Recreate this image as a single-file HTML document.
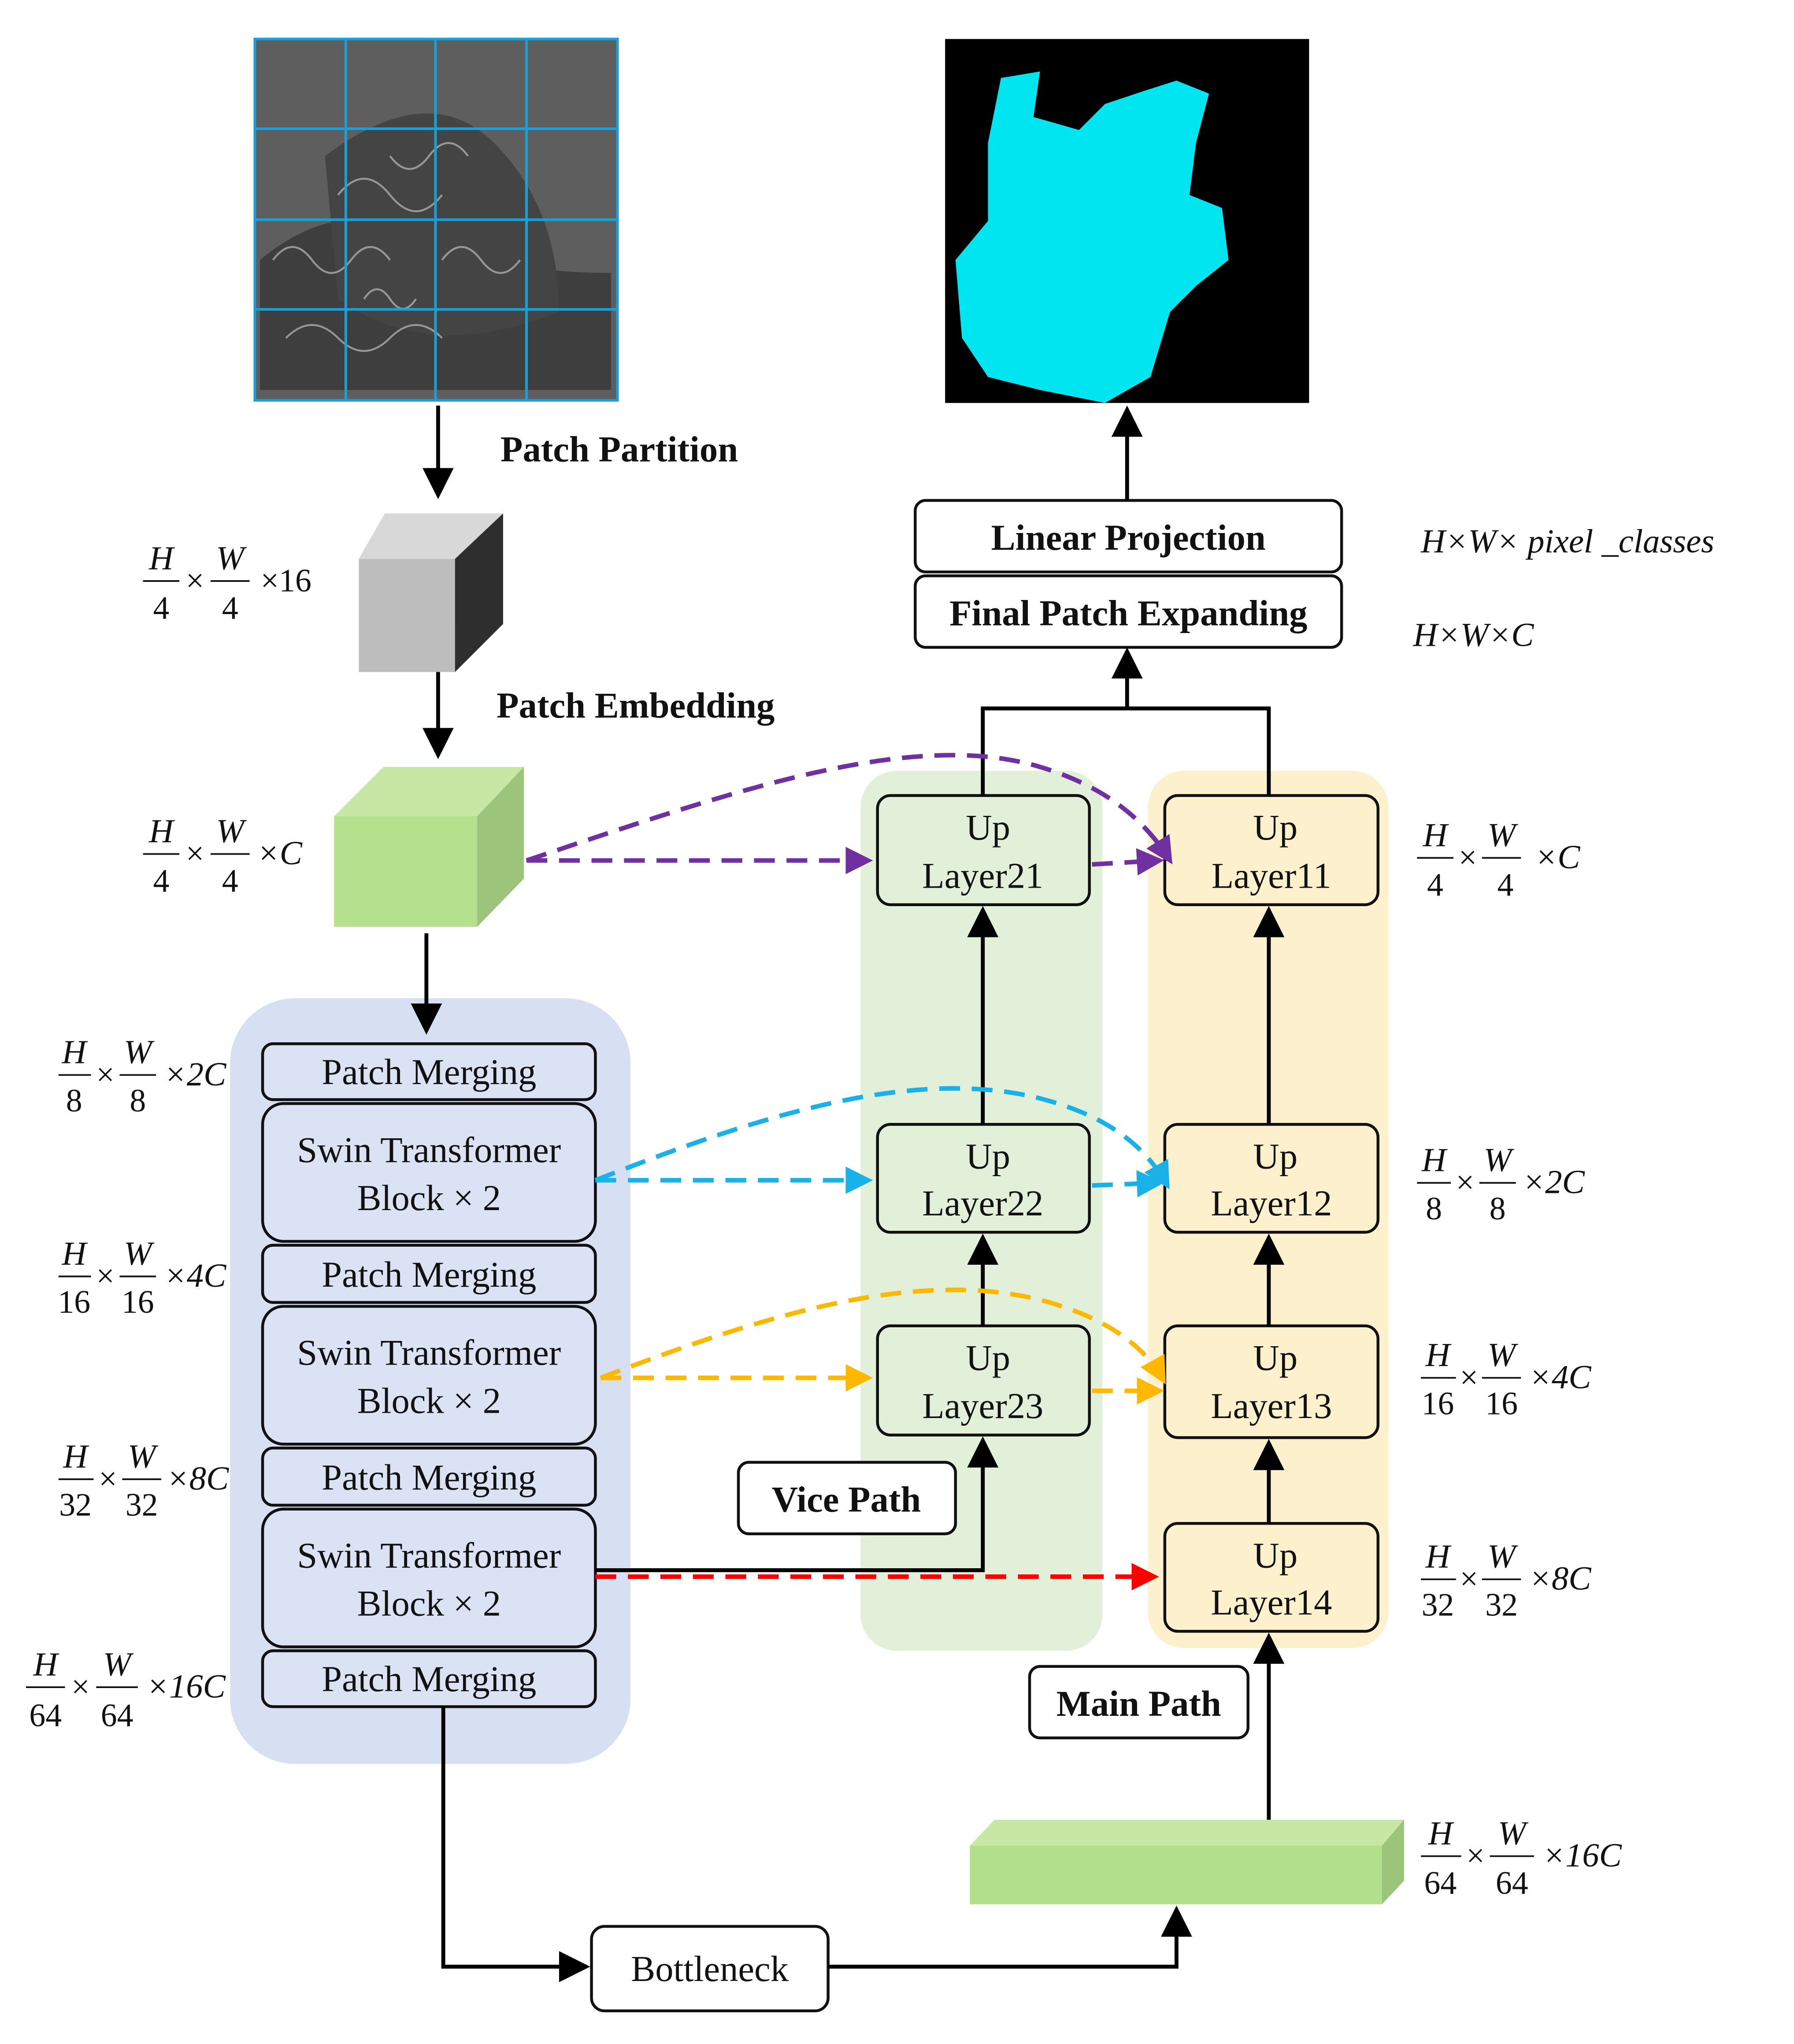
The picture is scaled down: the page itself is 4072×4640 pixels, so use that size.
<!DOCTYPE html>
<html><head><meta charset="utf-8"><style>html,body{margin:0;padding:0;background:#fff}svg{display:block}
text{font-family:"Liberation Serif",serif;fill:#111}
.b{font-weight:bold;font-size:28px}
.n{font-size:28px}
.m{font-size:26px;font-style:italic}
.d{font-size:25px}
</style></head><body>
<svg width="4072" height="4640" viewBox="0 0 1380 1572.5" preserveAspectRatio="none" xmlns="http://www.w3.org/2000/svg">
<defs>
<marker id="ak" markerWidth="8" markerHeight="8" refX="6" refY="4" orient="auto" markerUnits="strokeWidth"><path d="M0,0 L8,4 L0,8 z" fill="#000"/></marker>
<marker id="ap" markerWidth="6" markerHeight="6" refX="5" refY="3" orient="auto" markerUnits="strokeWidth"><path d="M0,0 L6,3 L0,6 z" fill="#7030a0"/></marker>
<marker id="ab" markerWidth="6" markerHeight="6" refX="5" refY="3" orient="auto" markerUnits="strokeWidth"><path d="M0,0 L6,3 L0,6 z" fill="#1ab0e8"/></marker>
<marker id="ao" markerWidth="6" markerHeight="6" refX="5" refY="3" orient="auto" markerUnits="strokeWidth"><path d="M0,0 L6,3 L0,6 z" fill="#ffb800"/></marker>
<marker id="ar" markerWidth="6" markerHeight="6" refX="5" refY="3" orient="auto" markerUnits="strokeWidth"><path d="M0,0 L6,3 L0,6 z" fill="#ff0000"/></marker>
</defs>

<!-- input image -->
<rect x="196" y="30" width="279" height="278" fill="#5e5e5e"/>
<path d="M200,200 Q260,150 320,180 T470,210 L470,300 L200,300 Z" fill="#3e3e3e"/>
<path d="M250,120 Q330,60 380,110 T430,240 Q330,280 260,230 Z" fill="#444"/>
<g stroke="#bbb" stroke-width="1.5" fill="none" opacity="0.7">
<path d="M210,200 q15,-20 30,0 t30,0 t30,0 M260,150 q20,-25 40,0 t40,0 M300,120 q15,20 30,0 t30,0 M220,260 q20,-20 40,0 t40,0 t40,0 M340,200 q15,-20 30,0 t30,0 M280,230 q10,-15 20,0 t20,0"/>
</g>
<g stroke="#1aa0d8" stroke-width="2" fill="none">
<rect x="196" y="30" width="279" height="278"/>
<line x1="266" y1="30" x2="266" y2="308"/><line x1="335" y1="30" x2="335" y2="308"/><line x1="405" y1="30" x2="405" y2="308"/>
<line x1="196" y1="99" x2="475" y2="99"/><line x1="196" y1="169" x2="475" y2="169"/><line x1="196" y1="238" x2="475" y2="238"/>
</g>

<!-- output image -->
<rect x="727" y="30" width="280" height="280" fill="#000"/>
<path d="M770,60 L800,55 L795,90 L830,100 L850,80 L880,70 L905,62 L930,72 L920,110 L915,150 L940,160 L945,200 L920,220 L900,240 L885,290 L850,310 L800,300 L760,290 L740,260 L735,200 L760,170 L760,110 Z" fill="#00e5f0"/>

<line x1="337" y1="312" x2="337" y2="378" stroke="#000" stroke-width="3" marker-end="url(#ak)"/>
<text x="385" y="355" class="b">Patch Partition</text>

<!-- gray cube -->
<polygon points="276,430 296,395 387,395 350,430" fill="#d8d8d8"/>
<rect x="276" y="430" width="74" height="87" fill="#bdbdbd"/>
<polygon points="350,430 387,395 387,480 350,517" fill="#2e2e2e"/>

<line x1="337" y1="517" x2="337" y2="578" stroke="#000" stroke-width="3" marker-end="url(#ak)"/>
<text x="382" y="552" class="b">Patch Embedding</text>

<!-- green cube -->
<polygon points="257,628 295,590 403,590 367,628" fill="#c6e8a4"/>
<rect x="257" y="628" width="110" height="85" fill="#b5e08e"/>
<polygon points="367,628 403,590 403,676 367,713" fill="#9cc47a"/>

<!-- panels -->
<rect x="177" y="768" width="308" height="589" rx="50" fill="#d7e0f2"/>
<rect x="662" y="593" width="186" height="677" rx="28" fill="#e2efd9"/>
<rect x="883" y="593" width="185" height="675" rx="28" fill="#fdf0cc"/>

<line x1="328" y1="718" x2="328" y2="790" stroke="#000" stroke-width="3" marker-end="url(#ak)"/>

<g fill="#dae2f3" stroke="#111" stroke-width="2.2">
<rect x="202" y="803" width="256" height="43" rx="8"/>
<rect x="202" y="849" width="256" height="106" rx="16"/>
<rect x="202" y="958" width="256" height="44" rx="8"/>
<rect x="202" y="1005" width="256" height="106" rx="16"/>
<rect x="202" y="1114" width="256" height="44" rx="8"/>
<rect x="202" y="1161" width="256" height="106" rx="16"/>
<rect x="202" y="1270" width="256" height="43" rx="8"/>
</g>
<g text-anchor="middle">
<text x="330" y="834" class="n">Patch Merging</text>
<text x="330" y="894" class="n">Swin Transformer</text><text x="330" y="931" class="n">Block × 2</text>
<text x="330" y="990" class="n">Patch Merging</text>
<text x="330" y="1050" class="n">Swin Transformer</text><text x="330" y="1087" class="n">Block × 2</text>
<text x="330" y="1146" class="n">Patch Merging</text>
<text x="330" y="1206" class="n">Swin Transformer</text><text x="330" y="1243" class="n">Block × 2</text>
<text x="330" y="1301" class="n">Patch Merging</text>
</g>

<!-- up layers -->
<g fill="none" stroke="#111" stroke-width="2.2">
<rect x="675" y="612" width="163" height="84" rx="10"/>
<rect x="675" y="865" width="163" height="83" rx="10"/>
<rect x="675" y="1020" width="163" height="84" rx="10"/>
<rect x="896" y="612" width="164" height="84" rx="10"/>
<rect x="896" y="865" width="164" height="83" rx="10"/>
<rect x="896" y="1020" width="164" height="86" rx="10"/>
<rect x="896" y="1172" width="164" height="83" rx="10"/>
</g>
<g text-anchor="middle">
<text x="760" y="646" class="n">Up</text><text x="756" y="683" class="n">Layer21</text>
<text x="760" y="899" class="n">Up</text><text x="756" y="935" class="n">Layer22</text>
<text x="760" y="1054" class="n">Up</text><text x="756" y="1091" class="n">Layer23</text>
<text x="981" y="646" class="n">Up</text><text x="978" y="683" class="n">Layer11</text>
<text x="981" y="899" class="n">Up</text><text x="978" y="935" class="n">Layer12</text>
<text x="981" y="1054" class="n">Up</text><text x="978" y="1091" class="n">Layer13</text>
<text x="981" y="1206" class="n">Up</text><text x="978" y="1242" class="n">Layer14</text>
</g>

<!-- top boxes -->
<rect x="704" y="385" width="328" height="55" rx="8" fill="#fff" stroke="#111" stroke-width="2.2"/>
<rect x="704" y="443" width="328" height="55" rx="8" fill="#fff" stroke="#111" stroke-width="2.2"/>
<text x="868" y="423" class="b" text-anchor="middle">Linear Projection</text>
<text x="868" y="481" class="b" text-anchor="middle">Final Patch Expanding</text>
<line x1="867" y1="385" x2="867" y2="318" stroke="#000" stroke-width="3" marker-end="url(#ak)"/>

<g stroke="#000" stroke-width="3" fill="none">
<polyline points="756,612 756,545 976,545 976,612"/>
</g>
<g stroke="#000" stroke-width="3" marker-end="url(#ak)">
<line x1="867" y1="545" x2="867" y2="504"/>
<line x1="756" y1="865" x2="756" y2="703"/>
<line x1="976" y1="865" x2="976" y2="703"/>
<line x1="756" y1="1020" x2="756" y2="955"/>
<line x1="976" y1="1020" x2="976" y2="955"/>
<line x1="976" y1="1172" x2="976" y2="1113"/>
<line x1="976" y1="1405" x2="976" y2="1262"/>
</g>
<polyline points="458,1208 756,1208 756,1111" fill="none" stroke="#000" stroke-width="3" marker-end="url(#ak)"/>

<!-- dashed -->
<g fill="none" stroke-width="3.5" stroke-dasharray="16,9">
<line x1="405" y1="662" x2="668" y2="662" stroke="#7030a0" marker-end="url(#ap)"/>
<path d="M405,662 C560,610 700,560 800,590 C850,605 880,630 900,662" stroke="#7030a0" marker-end="url(#ap)"/>
<line x1="840" y1="665" x2="892" y2="662" stroke="#7030a0" marker-end="url(#ap)"/>
<line x1="458" y1="908" x2="668" y2="908" stroke="#1ab0e8" marker-end="url(#ab)"/>
<path d="M458,908 C580,860 700,820 800,845 C850,858 880,880 898,912" stroke="#1ab0e8" marker-end="url(#ab)"/>
<line x1="840" y1="912" x2="892" y2="910" stroke="#1ab0e8" marker-end="url(#ab)"/>
<line x1="462" y1="1060" x2="668" y2="1060" stroke="#ffb800" marker-end="url(#ao)"/>
<path d="M462,1060 C580,1015 700,975 800,1000 C850,1013 880,1035 895,1062" stroke="#ffb800" marker-end="url(#ao)"/>
<line x1="840" y1="1070" x2="892" y2="1070" stroke="#ffb800" marker-end="url(#ao)"/>
<line x1="458" y1="1213" x2="888" y2="1213" stroke="#ff0000" marker-end="url(#ar)"/>
</g>

<!-- path labels -->
<rect x="568" y="1125" width="167" height="55" rx="8" fill="#fff" stroke="#111" stroke-width="2.2"/>
<text x="651" y="1163" class="b" text-anchor="middle">Vice Path</text>
<rect x="792" y="1282" width="168" height="55" rx="8" fill="#fff" stroke="#111" stroke-width="2.2"/>
<text x="876" y="1320" class="b" text-anchor="middle">Main Path</text>

<!-- bottom block -->
<polygon points="746,1420 765,1400 1080,1400 1063,1420" fill="#c6e8a4"/>
<rect x="746" y="1420" width="317" height="45" fill="#b2df8a"/>
<polygon points="1063,1420 1080,1400 1080,1447 1063,1465" fill="#9cc47a"/>

<rect x="455" y="1482" width="182" height="65" rx="10" fill="#fff" stroke="#111" stroke-width="2.2"/>
<text x="546" y="1524" class="n" text-anchor="middle">Bottleneck</text>
<polyline points="341,1313 341,1513 448,1513" fill="none" stroke="#000" stroke-width="3" marker-end="url(#ak)"/>
<polyline points="637,1513 905,1513 905,1472" fill="none" stroke="#000" stroke-width="3" marker-end="url(#ak)"/>

<!-- dimension labels -->
<g stroke="#111" stroke-width="1.3">
<line x1="110" y1="447" x2="138" y2="447"/><line x1="162" y1="447" x2="192" y2="447"/>
<line x1="110" y1="657" x2="138" y2="657"/><line x1="162" y1="657" x2="192" y2="657"/>
<line x1="45" y1="827" x2="70" y2="827"/><line x1="92" y1="827" x2="120" y2="827"/>
<line x1="45" y1="982" x2="70" y2="982"/><line x1="92" y1="982" x2="120" y2="982"/>
<line x1="45" y1="1138" x2="72" y2="1138"/><line x1="94" y1="1138" x2="124" y2="1138"/>
<line x1="20" y1="1298" x2="50" y2="1298"/><line x1="74" y1="1298" x2="106" y2="1298"/>
<line x1="1090" y1="660" x2="1118" y2="660"/><line x1="1140" y1="660" x2="1170" y2="660"/>
<line x1="1090" y1="910" x2="1116" y2="910"/><line x1="1138" y1="910" x2="1166" y2="910"/>
<line x1="1093" y1="1060" x2="1120" y2="1060"/><line x1="1140" y1="1060" x2="1170" y2="1060"/>
<line x1="1093" y1="1215" x2="1120" y2="1215"/><line x1="1140" y1="1215" x2="1170" y2="1215"/>
<line x1="1093" y1="1428" x2="1124" y2="1428"/><line x1="1146" y1="1428" x2="1180" y2="1428"/>
</g>
<g class="d" text-anchor="middle">
<text x="124" y="438" class="m">H</text><text x="124" y="476" class="d">4</text><text x="150" y="455" class="d">×</text><text x="177" y="438" class="m">W</text><text x="177" y="476" class="d">4</text><text x="220" y="455" class="d">×16</text>
<text x="124" y="648" class="m">H</text><text x="124" y="686" class="d">4</text><text x="150" y="665" class="d">×</text><text x="177" y="648" class="m">W</text><text x="177" y="686" class="d">4</text><text x="215" y="665" class="m">×C</text>
<text x="57" y="818" class="m">H</text><text x="57" y="855" class="d">8</text><text x="81" y="835" class="d">×</text><text x="106" y="818" class="m">W</text><text x="106" y="855" class="d">8</text><text x="150" y="835" class="m">×2C</text>
<text x="57" y="973" class="m">H</text><text x="57" y="1010" class="d">16</text><text x="81" y="990" class="d">×</text><text x="106" y="973" class="m">W</text><text x="106" y="1010" class="d">16</text><text x="150" y="990" class="m">×4C</text>
<text x="58" y="1129" class="m">H</text><text x="58" y="1166" class="d">32</text><text x="83" y="1146" class="d">×</text><text x="109" y="1129" class="m">W</text><text x="109" y="1166" class="d">32</text><text x="152" y="1146" class="m">×8C</text>
<text x="35" y="1289" class="m">H</text><text x="35" y="1328" class="d">64</text><text x="62" y="1306" class="d">×</text><text x="90" y="1289" class="m">W</text><text x="90" y="1328" class="d">64</text><text x="143" y="1306" class="m">×16C</text>
<text x="1104" y="651" class="m">H</text><text x="1104" y="689" class="d">4</text><text x="1129" y="668" class="d">×</text><text x="1155" y="651" class="m">W</text><text x="1158" y="689" class="d">4</text><text x="1198" y="668" class="m">×C</text>
<text x="1103" y="901" class="m">H</text><text x="1103" y="938" class="d">8</text><text x="1127" y="918" class="d">×</text><text x="1152" y="901" class="m">W</text><text x="1152" y="938" class="d">8</text><text x="1195" y="918" class="m">×2C</text>
<text x="1106" y="1051" class="m">H</text><text x="1106" y="1088" class="d">16</text><text x="1130" y="1068" class="d">×</text><text x="1155" y="1051" class="m">W</text><text x="1155" y="1088" class="d">16</text><text x="1200" y="1068" class="m">×4C</text>
<text x="1106" y="1206" class="m">H</text><text x="1106" y="1243" class="d">32</text><text x="1130" y="1223" class="d">×</text><text x="1155" y="1206" class="m">W</text><text x="1155" y="1243" class="d">32</text><text x="1200" y="1223" class="m">×8C</text>
<text x="1108" y="1419" class="m">H</text><text x="1108" y="1457" class="d">64</text><text x="1135" y="1436" class="d">×</text><text x="1163" y="1419" class="m">W</text><text x="1163" y="1457" class="d">64</text><text x="1217" y="1436" class="m">×16C</text>
</g>
<text x="1093" y="425" class="m">H×W× pixel _classes</text>
<text x="1087" y="497" class="m">H×W×C</text>
</svg>
</body></html>
